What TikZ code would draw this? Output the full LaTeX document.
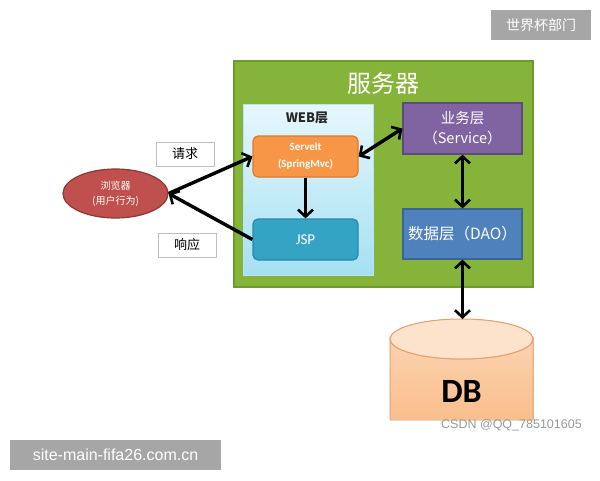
\documentclass[tikz,border=0pt]{standalone}
\usepackage{fontspec}
\setmainfont{Carlito}
\newfontfamily\cjk{Noto Sans CJK SC}
\newfontfamily\wm{Liberation Sans}
\usetikzlibrary{arrows.meta,shapes.geometric}
\definecolor{srvgreen}{HTML}{86B33A}
\definecolor{srvedge}{HTML}{6F9A2C}
\definecolor{orng}{HTML}{F79646}
\definecolor{orngedge}{HTML}{E07A2A}
\definecolor{teal}{HTML}{35A3C4}
\definecolor{tealedge}{HTML}{2A8AA8}
\definecolor{purp}{HTML}{8064A2}
\definecolor{purpedge}{HTML}{5E4A7E}
\definecolor{blu}{HTML}{4F81BD}
\definecolor{bluedge}{HTML}{3A6497}
\definecolor{redb}{HTML}{C0504D}
\definecolor{rededge}{HTML}{8C3836}
\definecolor{wmgray}{HTML}{A6A6A6}
\tikzset{
  box/.style={draw, line width=1.2pt, text=white, align=center, inner sep=0pt},
  rbox/.style={box, rounded corners=5pt},
  lbl/.style={draw=gray!50, fill=white, minimum width=58pt, minimum height=24pt, font=\cjk\fontsize{13}{15}\selectfont},
  arr/.style={line width=3.4pt, -{Straight Barb[length=7pt,width=15pt,line width=2.6pt]}},
  darr/.style={line width=3.4pt, {Straight Barb[length=7pt,width=15pt,line width=2.6pt]}-{Straight Barb[length=7pt,width=15pt,line width=2.6pt]}}
}
\begin{document}
\begin{tikzpicture}[x=1pt,y=-1pt]
\useasboundingbox (0,0) rectangle (600,480);
\fill[white] (0,0) rectangle (600,480);
% server
\node[draw=srvedge, fill=srvgreen, line width=2pt, minimum width=299pt, minimum height=226pt] (server) at (383.5,174) {};
\node[text=white, font=\cjk\fontsize{24}{26}\selectfont] (srvtitle) at (383,83) {服务器};
% web layer
\node[draw=white!70!cyan, line width=1pt, top color={rgb,255:red,230;green,247;blue,253}, bottom color={rgb,255:red,166;green,224;blue,243}, minimum width=130pt, minimum height=171pt] (web) at (308,189.5) {};
\node[font=\cjk\bfseries\fontsize{13}{15}\selectfont, text=black!85] (webtitle) at (307,118) {WEB层};
% servlet
\node[rbox, draw=orngedge, fill=orng, minimum width=105pt, minimum height=41pt, font=\bfseries\fontsize{11}{17}\selectfont] (servlet) at (305.5,156.5) {Servelt\\(SpringMvc)};
% jsp
\node[rbox, draw=tealedge, fill=teal, minimum width=105pt, minimum height=41pt, font=\fontsize{15}{17}\selectfont] (jsp) at (305.5,239.5) {JSP};
% service
\node[box, draw=purpedge, fill=purp, minimum width=119pt, minimum height=51pt, font=\cjk\fontsize{14.5}{20}\selectfont] (service) at (462.5,128.5) {业务层\\（Service）};
% dao
\node[box, draw=bluedge, fill=blu, minimum width=119pt, minimum height=50pt, font=\cjk\fontsize{15.5}{17}\selectfont] (dao) at (462.5,234) {数据层（DAO）};
% browser
\node[ellipse, draw=rededge, fill=redb, line width=1.2pt, minimum width=105pt, minimum height=49pt, inner sep=0pt, text=white, align=center, font=\cjk\fontsize{10}{15}\selectfont] (browser) at (115.5,193.5) {浏览器\\(用户行为)};
% labels
\node[lbl] (req) at (185,154) {请求};
\node[lbl] (resp) at (187,245) {响应};
% DB cylinder
\fill[top color={rgb,255:red,252;green,216;blue,186}, bottom color={rgb,255:red,250;green,190;blue,140}] (390,339) -- (390,420) -- (533,420) -- (533,339) arc[start angle=0,end angle=180,x radius=71.5pt,y radius=20pt] -- cycle;
\draw[draw={rgb,255:red,230;green,160;blue,110}, line width=1pt] (390,420) -- (390,339) arc[start angle=180,end angle=360,x radius=71.5pt,y radius=20pt] -- (533,420);
\filldraw[fill={rgb,255:red,253;green,226;blue,204}, draw={rgb,255:red,230;green,160;blue,110}, line width=1pt] (461.5,339) ellipse[x radius=71.5pt,y radius=20pt];
\coordinate (dbtop) at (462.5,319);
\node[font=\bfseries\fontsize{34}{36}\selectfont, text=black] (db) at (461.5,391) {DB};
% connectors
\draw[arr] (browser.east) -- (servlet.west);
\draw[arr] (jsp.west) -- (browser.east);
\draw[darr] (servlet.east) -- (service.west);
\draw[arr] (servlet.south) -- (jsp.north);
\draw[darr] (service.south) -- (dao.north);
\draw[darr] (dao.south) -- (dbtop);
% watermarks
\node[text=gray!80, font=\wm\fontsize{12.5}{14}\selectfont, anchor=west, inner sep=0pt] (csdn) at (441,425) {CSDN @QQ\_785101605};
\node[fill=wmgray, text=white, minimum width=100pt, minimum height=30pt, font=\cjk\fontsize{14}{16}\selectfont] (dept) at (541,25) {世界杯部门};
\node[fill=wmgray, text=white, minimum width=211pt, minimum height=30pt, font=\wm\fontsize{16}{18}\selectfont] (site) at (115.5,455) {site-main-fifa26.com.cn};
\end{tikzpicture}
\end{document}
